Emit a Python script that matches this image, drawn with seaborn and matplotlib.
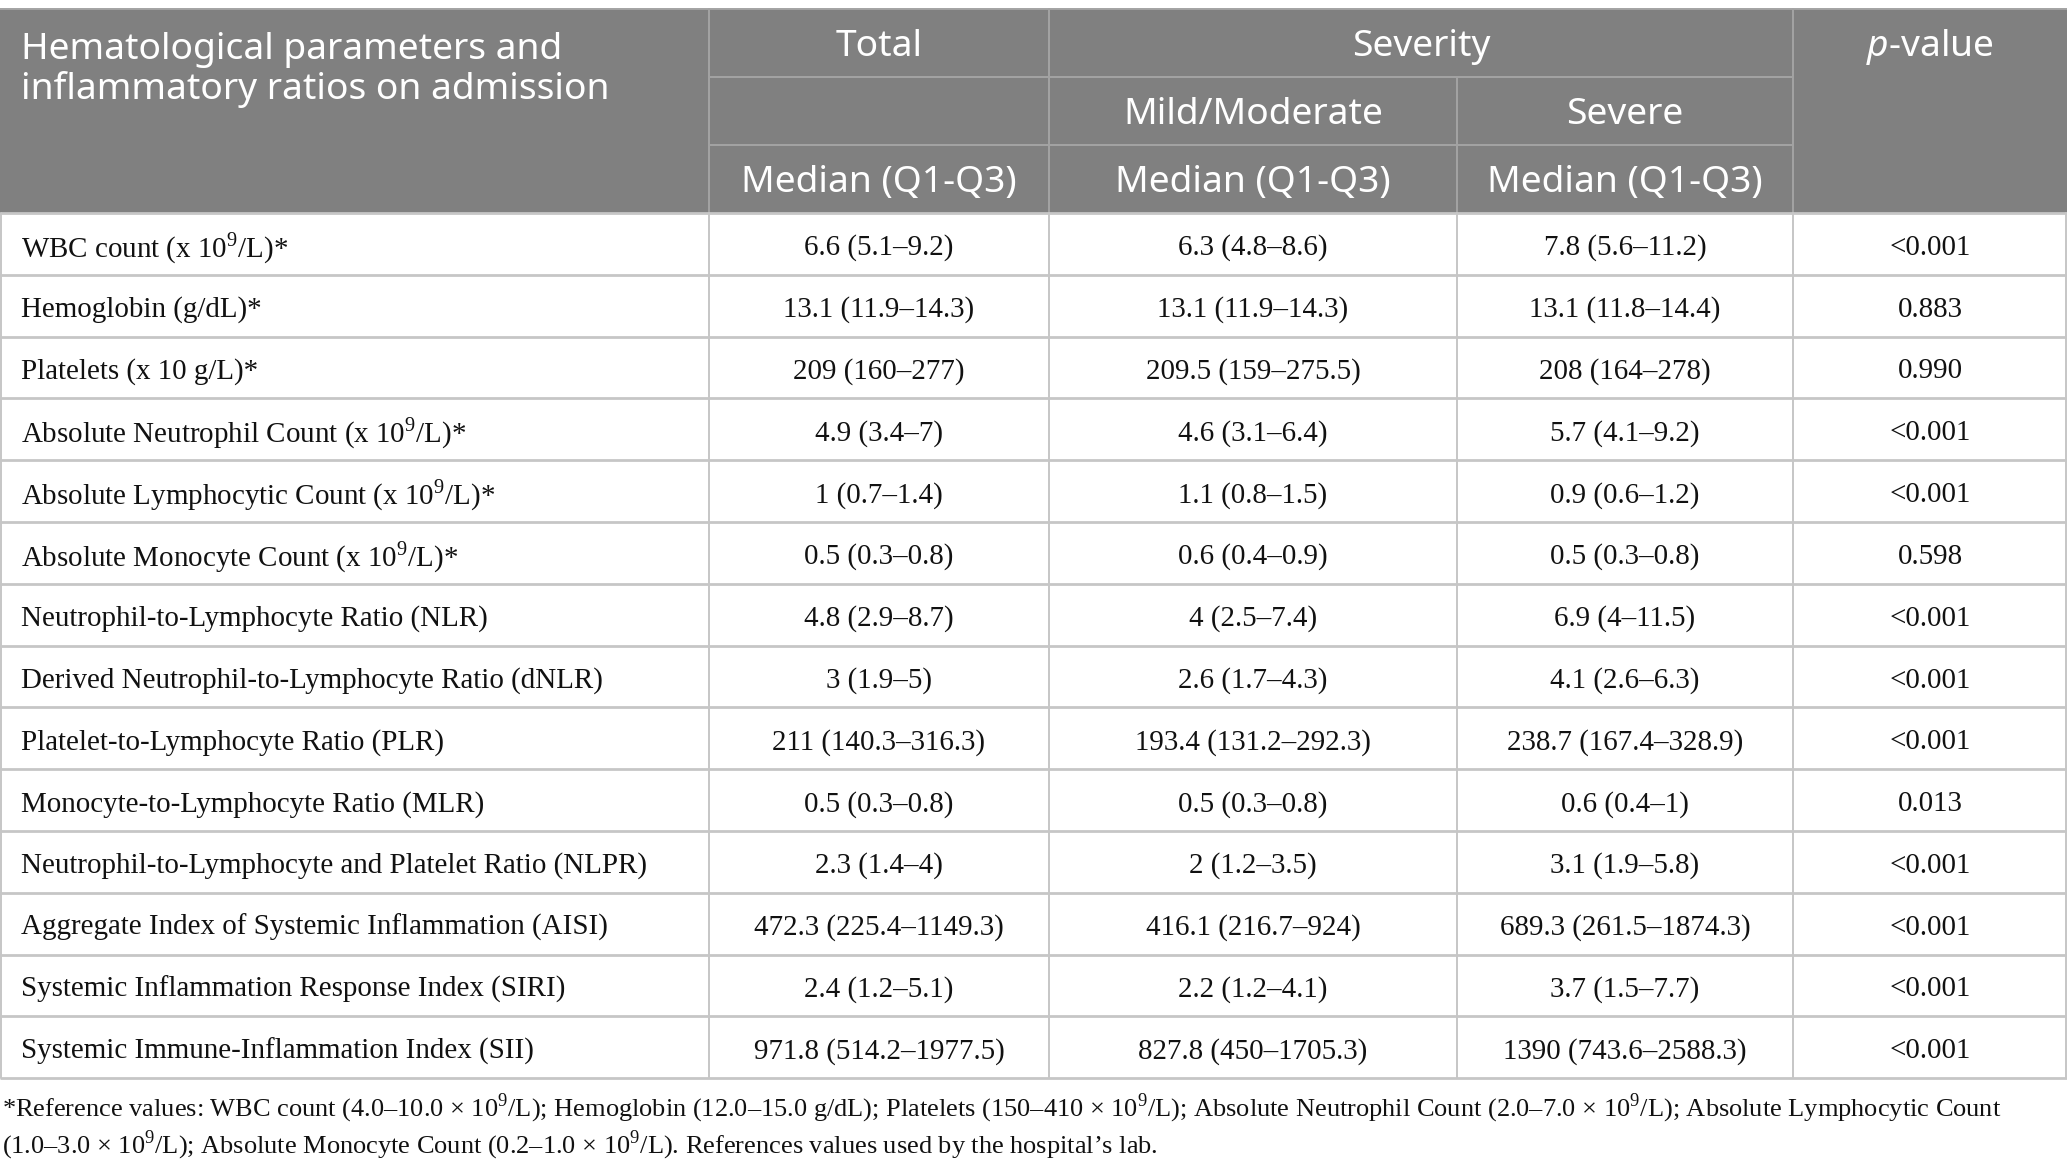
import matplotlib
matplotlib.use("Agg")
import matplotlib.pyplot as plt
import seaborn as sns
from matplotlib.patches import Rectangle

# ---------------- data ----------------
header_first = "Hematological parameters and\ninflammatory ratios on admission"
header_total = "Total"
header_severity = "Severity"
header_pvalue = r"$\mathit{p}$-value"
header_groups = ["Mild/Moderate", "Severe"]
header_stat = "Median (Q1-Q3)"

parameters = [
    r"WBC count (x 10$^9$/L)*",
    "Hemoglobin (g/dL)*",
    "Platelets (x 10 g/L)*",
    r"Absolute Neutrophil Count (x 10$^9$/L)*",
    r"Absolute Lymphocytic Count (x 10$^9$/L)*",
    r"Absolute Monocyte Count (x 10$^9$/L)*",
    "Neutrophil-to-Lymphocyte Ratio (NLR)",
    "Derived Neutrophil-to-Lymphocyte Ratio (dNLR)",
    "Platelet-to-Lymphocyte Ratio (PLR)",
    "Monocyte-to-Lymphocyte Ratio (MLR)",
    "Neutrophil-to-Lymphocyte and Platelet Ratio (NLPR)",
    "Aggregate Index of Systemic Inflammation (AISI)",
    "Systemic Inflammation Response Index (SIRI)",
    "Systemic Immune-Inflammation Index (SII)",
]
total = [
    "6.6 (5.1–9.2)", "13.1 (11.9–14.3)", "209 (160–277)", "4.9 (3.4–7)",
    "1 (0.7–1.4)", "0.5 (0.3–0.8)", "4.8 (2.9–8.7)", "3 (1.9–5)",
    "211 (140.3–316.3)", "0.5 (0.3–0.8)", "2.3 (1.4–4)",
    "472.3 (225.4–1149.3)", "2.4 (1.2–5.1)", "971.8 (514.2–1977.5)",
]
mild_moderate = [
    "6.3 (4.8–8.6)", "13.1 (11.9–14.3)", "209.5 (159–275.5)", "4.6 (3.1–6.4)",
    "1.1 (0.8–1.5)", "0.6 (0.4–0.9)", "4 (2.5–7.4)", "2.6 (1.7–4.3)",
    "193.4 (131.2–292.3)", "0.5 (0.3–0.8)", "2 (1.2–3.5)",
    "416.1 (216.7–924)", "2.2 (1.2–4.1)", "827.8 (450–1705.3)",
]
severe = [
    "7.8 (5.6–11.2)", "13.1 (11.8–14.4)", "208 (164–278)", "5.7 (4.1–9.2)",
    "0.9 (0.6–1.2)", "0.5 (0.3–0.8)", "6.9 (4–11.5)", "4.1 (2.6–6.3)",
    "238.7 (167.4–328.9)", "0.6 (0.4–1)", "3.1 (1.9–5.8)",
    "689.3 (261.5–1874.3)", "3.7 (1.5–7.7)", "1390 (743.6–2588.3)",
]
p_values = [
    "<0.001", "0.883", "0.990", "<0.001", "<0.001", "0.598", "<0.001",
    "<0.001", "<0.001", "0.013", "<0.001", "<0.001", "<0.001", "<0.001",
]
footnote_lines = [
    r"*Reference values: WBC count (4.0–10.0 × 10$^9$/L); Hemoglobin (12.0–15.0 g/dL); "
    r"Platelets (150–410 × 10$^9$/L); Absolute Neutrophil Count (2.0–7.0 × 10$^9$/L); Absolute Lymphocytic Count",
    r"(1.0–3.0 × 10$^9$/L); Absolute Monocyte Count (0.2–1.0 × 10$^9$/L). References values used by the hospital’s lab.",
]

# ---------------- style ----------------
sns.set_theme(style="white")
plt.rcParams["font.family"] = ["Liberation Serif", "DejaVu Serif"]
plt.rcParams["mathtext.fontset"] = "custom"
plt.rcParams["mathtext.rm"] = "Liberation Serif"
plt.rcParams["mathtext.it"] = "Noto Sans:italic:light"
plt.rcParams["mathtext.bf"] = "Liberation Serif:bold"

W, H = 2067, 1171
fig = plt.figure(figsize=(W / 100, H / 100), dpi=100)
ax = fig.add_axes([0, 0, 1, 1])
ax.set_xlim(0, W)
ax.set_ylim(H, 0)
ax.axis("off")

HEAD_BG = "#808080"
HEAD_LINE = "#a3a3a3"
BODY_LINE = "#c6c6c6"
TXT = "#111111"

cols = [0, 709, 1049, 1457, 1793, W]
top, r1, r2, hb = 9, 77, 145, 213
row_h = 61.8
n = len(parameters)
bottom = hb + n * row_h

hfont = dict(family=["Noto Sans", "DejaVu Sans"], color="white", fontsize=26.8,
             fontweight="light")
bfont = dict(color=TXT, fontsize=20.9)
hdy = 4   # header text vertical nudge
bdy = 4   # body text vertical nudge

# header background
ax.add_patch(Rectangle((0, top), W, hb - top, facecolor=HEAD_BG, edgecolor="none"))
# header lines
lw_h = 1.4
ax.plot([0, W], [top, top], color=HEAD_LINE, lw=lw_h)
ax.plot([cols[1], cols[4]], [r1, r1], color=HEAD_LINE, lw=lw_h)
ax.plot([cols[1], cols[4]], [r2, r2], color=HEAD_LINE, lw=lw_h)
for c in cols[1:5]:
    if c == cols[3]:
        ax.plot([c, c], [r1, hb], color=HEAD_LINE, lw=lw_h)
    else:
        ax.plot([c, c], [top, hb], color=HEAD_LINE, lw=lw_h)

# header texts
ax.text(21, 66 + hdy, header_first, ha="left", va="center",
        linespacing=1.12, **hfont)
cx = [(cols[i] + cols[i + 1]) / 2 for i in range(len(cols) - 1)]
ax.text(cx[1], (top + r1) / 2 + hdy, header_total, ha="center", va="center", **hfont)
ax.text((cols[2] + cols[4]) / 2, (top + r1) / 2 + hdy, header_severity, ha="center", va="center", **hfont)
ax.text(cx[4], (top + r1) / 2 + hdy, header_pvalue, ha="center", va="center", **hfont)
for i, g in enumerate(header_groups):
    ax.text(cx[2 + i], (r1 + r2) / 2 + hdy, g, ha="center", va="center", **hfont)
for i in range(1, 4):
    ax.text(cx[i], (r2 + hb) / 2 + hdy, header_stat, ha="center", va="center", **hfont)

# body lines
for i in range(n + 1):
    y = hb + i * row_h
    ax.plot([0, W], [y, y], color=BODY_LINE, lw=2.0, solid_capstyle="butt")
for c in cols:
    xx = min(max(c, 0.7), W - 0.7)
    ax.plot([xx, xx], [hb, bottom], color=BODY_LINE, lw=1.4)

# body texts
for i in range(n):
    yc = hb + (i + 0.5) * row_h + bdy
    ax.text(21, yc, parameters[i], ha="left", va="center", **bfont)
    ax.text(cx[1], yc, total[i], ha="center", va="center", **bfont)
    ax.text(cx[2], yc, mild_moderate[i], ha="center", va="center", **bfont)
    ax.text(cx[3], yc, severe[i], ha="center", va="center", **bfont)
    ax.text(cx[4], yc, p_values[i], ha="center", va="center", **bfont)

# footnote
for j, line in enumerate(footnote_lines):
    ax.text(2, 1108 + j * 37, line, ha="left", va="center", color=TXT, fontsize=19)

fig.savefig("out.png", dpi=100, facecolor="white")
